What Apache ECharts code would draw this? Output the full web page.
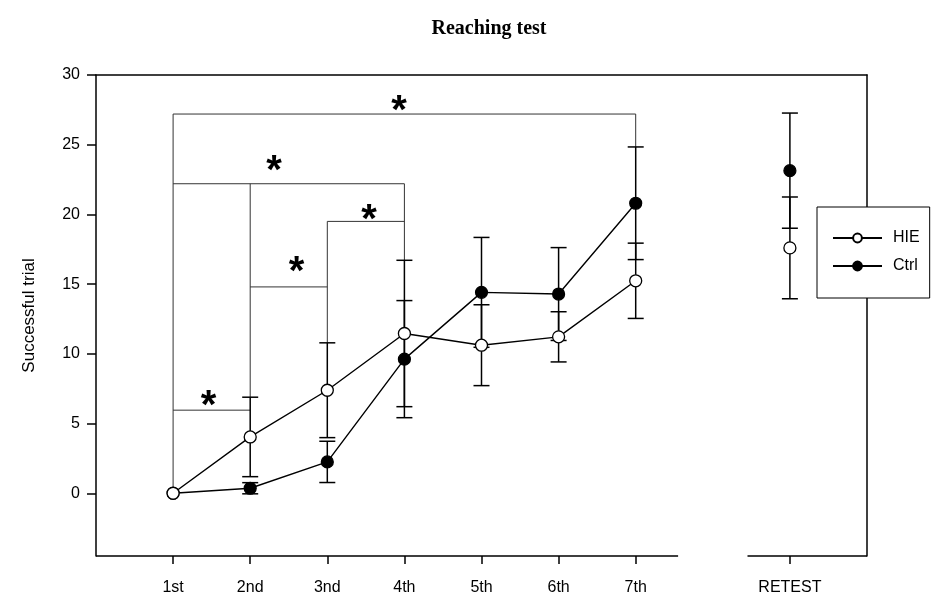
<!DOCTYPE html>
<html>
<head>
<meta charset="utf-8">
<title>Reaching test</title>
<script src="https://cdn.jsdelivr.net/npm/echarts@6/dist/echarts.min.js"></script>
<style>
  html, body { margin: 0; padding: 0; background: #fff; }
  #chart { width: 933px; height: 603px; }
</style>
</head>
<body>
<div id="chart"></div>
<script>
// sessions on the x axis (RETEST sits after a gap)
const sessionLabels = ['1st', '2nd', '3nd', '4th', '5th', '6th', '7th', 'RETEST']
const sessionPos = [1, 2, 3, 4, 5, 6, 7, 9]

const hieMean = [0, 4.04, 7.39, 11.46, 10.62, 11.22, 15.24, 17.6]
const hieErr = [0, 2.85, 3.4, 5.25, 2.9, 1.8, 2.7, 3.65]
const ctrlMean = [0, 0.36, 2.25, 9.62, 14.41, 14.29, 20.8, 23.14]
const ctrlErr = [0, 0.4, 1.48, 4.2, 3.94, 3.33, 4.04, 4.13]

const yTicks = [0, 5, 10, 15, 20, 25, 30]
const yRange = [-4.5, 30]
const xRange = [0, 10]
const xAxisBreak = [7.55, 8.45]

// significance brackets: [xLeft, yLeftBottom, yTop, xRight, yRightBottom]
const brackets = [
  [1, 0, 27.2, 7, 24.84],
  [1, 22.2, 22.2, 4, 16.7],
  [2, 6.9, 22.2, 2, 22.2],
  [3, 10.8, 19.5, 4, 19.5],
  [2, 14.8, 14.8, 3, 14.8],
  [1, 5.96, 5.96, 2, 5.96]
]
const stars = [[3.93, 28.0], [2.31, 23.7], [3.54, 20.2], [2.6, 16.45], [1.46, 6.85]]

const chart = echarts.init(document.getElementById('chart'))

function lineData(means) {
  const out = []
  sessionPos.forEach((x, i) => {
    if (i === 7) out.push([8, '-'])
    out.push([x, means[i]])
  })
  return out
}

function errData(means, errs) {
  return sessionPos
    .map((x, i) => [x, means[i] - errs[i], means[i] + errs[i]])
    .filter((d, i) => errs[i] > 0)
}

function renderErrorBar(params, api) {
  const top = api.coord([api.value(0), api.value(2)])
  const bot = api.coord([api.value(0), api.value(1)])
  const hw = 8
  const style = { stroke: '#000', lineWidth: 1.5 }
  return {
    type: 'group',
    children: [
      { type: 'line', shape: { x1: top[0], y1: top[1], x2: bot[0], y2: bot[1] }, style },
      { type: 'line', shape: { x1: top[0] - hw, y1: top[1], x2: top[0] + hw, y2: top[1] }, style },
      { type: 'line', shape: { x1: bot[0] - hw, y1: bot[1], x2: bot[0] + hw, y2: bot[1] }, style }
    ]
  }
}

function renderBracket(params, api) {
  const a = api.coord([api.value(0), api.value(1)])
  const b = api.coord([api.value(0), api.value(2)])
  const c = api.coord([api.value(3), api.value(2)])
  const d = api.coord([api.value(3), api.value(4)])
  return {
    type: 'polyline',
    shape: { points: [a, b, c, d] },
    style: { stroke: '#333', lineWidth: 1, fill: null }
  }
}

function renderStar(params, api) {
  const p = api.coord([api.value(0), api.value(1)])
  return {
    type: 'text',
    x: p[0],
    y: p[1] + 9,
    style: {
      text: '*',
      fontSize: 40,
      fontWeight: 'bold',
      fontFamily: 'Liberation Sans, Arial',
      align: 'center',
      verticalAlign: 'middle',
      fill: '#000'
    }
  }
}

const frameLine = { show: true, onZero: false, lineStyle: { color: '#000', width: 1.5 } }

const option = {
  animation: false,
  backgroundColor: '#fff',
  title: {
    text: 'Reaching test',
    left: 484,
    textAlign: 'center',
    top: 14,
    textStyle: {
      fontFamily: 'Liberation Serif, Times New Roman',
      fontWeight: 'bold',
      fontSize: 20,
      color: '#000'
    }
  },
  legend: {
    data: ['HIE', 'Ctrl'],
    orient: 'vertical',
    left: 817,
    top: 207,
    width: 90,
    padding: [23, 10, 24, 15],
    itemWidth: 49,
    itemHeight: 11,
    itemGap: 12,
    backgroundColor: '#fff',
    borderColor: '#000',
    borderWidth: 1,
    selectedMode: false,
    z: 10,
    textStyle: { fontSize: 16, color: '#000', fontFamily: 'Liberation Sans, Arial', padding: [0, 0, 0, 6] }
  },
  grid: { left: 96, top: 75, right: 66, bottom: 47, containLabel: false },
  xAxis: [
    {
      type: 'value',
      min: xRange[0],
      max: xRange[1],
      axisLine: { show: false, onZero: false },
      splitLine: { show: false },
      axisTick: {
        show: true,
        customValues: sessionPos,
        length: 8,
        lineStyle: { color: '#000', width: 1.5 }
      },
      axisLabel: {
        customValues: sessionPos,
        formatter: v => sessionLabels[sessionPos.indexOf(v)] || '',
        fontSize: 16,
        color: '#000',
        fontFamily: 'Liberation Sans, Arial',
        margin: 24
      }
    },
    {
      type: 'value',
      position: 'top',
      min: xRange[0],
      max: xRange[1],
      axisLine: frameLine,
      axisTick: { show: false },
      axisLabel: { show: false },
      splitLine: { show: false }
    }
  ],
  yAxis: [
    {
      type: 'value',
      min: yRange[0],
      max: yRange[1],
      name: 'Successful trial',
      nameLocation: 'middle',
      nameGap: 58,
      nameTextStyle: { fontSize: 17, color: '#000', fontFamily: 'Liberation Sans, Arial' },
      axisLine: frameLine,
      splitLine: { show: false },
      axisTick: {
        show: true,
        customValues: yTicks,
        length: 9,
        lineStyle: { color: '#000', width: 1.5 }
      },
      axisLabel: {
        customValues: yTicks,
        fontSize: 16,
        color: '#000',
        fontFamily: 'Liberation Sans, Arial',
        margin: 16
      }
    },
    {
      type: 'value',
      position: 'right',
      min: yRange[0],
      max: yRange[1],
      axisLine: frameLine,
      axisTick: { show: false },
      axisLabel: { show: false },
      splitLine: { show: false }
    }
  ],
  series: [
    {
      // broken bottom axis
      type: 'line',
      data: [[xRange[0], yRange[0]], [xAxisBreak[0], yRange[0]], [8, '-'], [xAxisBreak[1], yRange[0]], [xRange[1], yRange[0]]],
      symbol: 'none',
      clip: false,
      silent: true,
      lineStyle: { color: '#000', width: 1.5 },
      z: 1
    },
    {
      type: 'custom',
      renderItem: renderBracket,
      data: brackets,
      silent: true,
      z: 1
    },
    {
      type: 'custom',
      renderItem: renderStar,
      data: stars,
      silent: true,
      z: 1
    },
    {
      type: 'custom',
      renderItem: renderErrorBar,
      data: errData(ctrlMean, ctrlErr),
      encode: { x: 0, y: [1, 2] },
      silent: true,
      z: 2
    },
    {
      type: 'custom',
      renderItem: renderErrorBar,
      data: errData(hieMean, hieErr),
      encode: { x: 0, y: [1, 2] },
      silent: true,
      z: 2
    },
    {
      name: 'Ctrl',
      type: 'line',
      data: lineData(ctrlMean),
      symbol: 'circle',
      symbolSize: 12,
      showAllSymbol: true,
      itemStyle: { color: '#000', borderColor: '#000', borderWidth: 1.2 },
      lineStyle: { color: '#000', width: 1.4 },
      emphasis: { disabled: true },
      z: 3
    },
    {
      name: 'HIE',
      type: 'line',
      data: lineData(hieMean),
      symbol: 'circle',
      symbolSize: 12,
      showAllSymbol: true,
      itemStyle: { color: '#fff', borderColor: '#000', borderWidth: 1.3 },
      lineStyle: { color: '#000', width: 1.4 },
      emphasis: { disabled: true },
      z: 3
    }
  ]
}

chart.setOption(option)
</script>
</body>
</html>
